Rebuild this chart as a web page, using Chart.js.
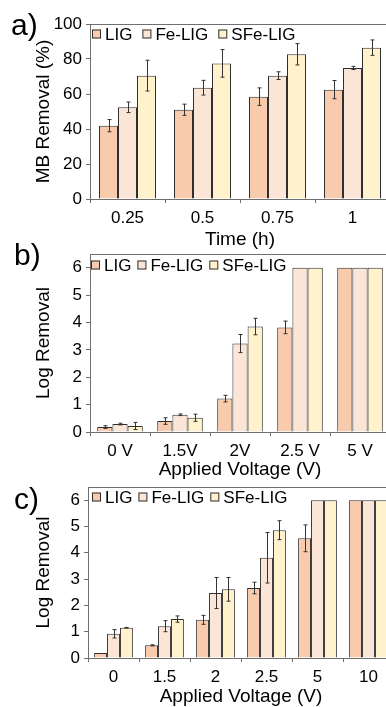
<!DOCTYPE html>
<html>
<head>
<meta charset="utf-8">
<script src="https://cdn.jsdelivr.net/npm/chart.js@4"></script>
<style>
  html, body { margin: 0; padding: 0; background: #fff; overflow: hidden; width: 386px; height: 707px; }
  .panel { position: absolute; left: 0; }
  .tag { position: absolute; font-family: 'Liberation Sans', Arial, sans-serif; font-size: 30px; color: #000; line-height: 1; }
</style>
</head>
<body>
<div class="panel" style="top:0"><canvas id="chartA" width="390" height="251"></canvas></div>
<div class="panel" style="top:234px"><canvas id="chartB" width="390" height="247"></canvas></div>
<div class="panel" style="top:467px"><canvas id="chartC" width="394" height="241"></canvas></div>
<div class="tag" style="left:11px;top:10px">a)</div>
<div class="tag" style="left:14px;top:240px">b)</div>
<div class="tag" style="left:14px;top:484px">c)</div>
<script>
// etiquetas y series
const seriesNames = ['LIG', 'Fe-LIG', 'SFe-LIG'];
const seriesColors = ['#F8CBAD', '#FBE5D6', '#FFF2CC'];

// a) remoción de MB vs tiempo
const timeLabels = ['0.25', '0.5', '0.75', '1'];
const ligA = [41.9, 51.0, 58.5, 62.5];
const ligAErr = [3.5, 3.2, 5.0, 5.2];
const feA = [52.4, 63.6, 70.5, 74.9];
const feAErr = [3.0, 4.2, 2.2, 0.9];
const sfeA = [70.5, 77.5, 82.7, 86.5];
const sfeAErr = [8.8, 7.9, 6.1, 4.4];

// b) log removal vs voltaje
const voltLabelsB = ['0 V', '1.5V', '2V', '2.5 V', '5 V'];
const ligB = [0.18, 0.40, 1.22, 3.82, 6];
const ligBErr = [0.05, 0.12, 0.12, 0.23, 0];
const feB = [0.29, 0.63, 3.23, 6, 6];
const feBErr = [0.03, 0.03, 0.33, 0, 0];
const sfeB = [0.22, 0.52, 3.85, 6, 6];
const sfeBErr = [0.13, 0.13, 0.30, 0, 0];

// c) log removal vs voltaje
const voltLabelsC = ['0', '1.5', '2', '2.5', '5', '10'];
const ligC = [0.19, 0.48, 1.45, 2.66, 4.55, 6];
const ligCErr = [0, 0.02, 0.17, 0.22, 0.51, 0];
const feC = [0.92, 1.21, 2.47, 3.81, 6, 6];
const feCErr = [0.16, 0.21, 0.59, 0.96, 0, 0];
const sfeC = [1.15, 1.48, 2.61, 4.86, 6, 6];
const sfeCErr = [0.01, 0.12, 0.45, 0.36, 0, 0];

const FONT = "'Liberation Sans', Arial, sans-serif";
const AXIS = '#6f6f6f';
const EDGE = '#2f2f2f';

// barras de error, marco superior y leyenda dentro del área
const extras = {
    id: 'extras',
    afterDatasetsDraw(chart, args, opts) {
        const { ctx, chartArea: a, scales: { y } } = chart;
        ctx.save();
        ctx.strokeStyle = '#333';
        ctx.lineWidth = 1;
        chart.data.datasets.forEach((ds, i) => {
            const meta = chart.getDatasetMeta(i);
            meta.data.forEach((bar, j) => {
                const e = ds.errors[j];
                if (!e) return;
                const v = ds.data[j];
                const x = Math.round(bar.x) + 0.5;
                const y1 = y.getPixelForValue(v + e);
                const y2 = y.getPixelForValue(v - e);
                ctx.beginPath();
                ctx.moveTo(x, y1); ctx.lineTo(x, y2);
                ctx.moveTo(x - 2, y1); ctx.lineTo(x + 2, y1);
                ctx.moveTo(x - 2, y2); ctx.lineTo(x + 2, y2);
                ctx.stroke();
            });
        });

        // marco
        ctx.strokeStyle = AXIS;
        ctx.beginPath();
        ctx.moveTo(a.left, Math.round(a.top) + 0.5);
        ctx.lineTo(a.right - 0.5, Math.round(a.top) + 0.5);
        ctx.lineTo(a.right - 0.5, a.bottom);
        ctx.stroke();

        // leyenda
        ctx.font = '17px ' + FONT;
        ctx.textBaseline = 'middle';
        ctx.textAlign = 'left';
        let x = opts.x;
        const yc = opts.y;
        chart.data.datasets.forEach((ds) => {
            ctx.fillStyle = ds.backgroundColor;
            ctx.fillRect(x, yc - 4.5, 9, 9);
            ctx.strokeStyle = EDGE;
            ctx.strokeRect(x + 0.5, yc - 4, 8, 8);
            ctx.fillStyle = '#000';
            ctx.fillText(ds.label, x + 13, yc + 1);
            x += 13 + ctx.measureText(ds.label).width + opts.gap;
        });
        ctx.restore();
    }
};

function makeDatasets(values, errors) {
    return values.map((v, i) => ({
        label: seriesNames[i],
        data: v,
        errors: errors[i],
        backgroundColor: seriesColors[i],
        borderColor: EDGE,
        borderWidth: 1,
        categoryPercentage: 0.76,
        barPercentage: 1.0
    }));
}

function makeChart(id, labels, datasets, cfg) {
    return new Chart(document.getElementById(id), {
        type: 'bar',
        data: { labels: labels, datasets: datasets },
        options: {
            responsive: false,
            animation: false,
            devicePixelRatio: 1,
            layout: { padding: { top: cfg.top, right: 0, bottom: 0, left: 0 } },
            plugins: {
                legend: { display: false },
                tooltip: { enabled: false },
                extras: { x: cfg.legX, y: cfg.legY, gap: cfg.legGap }
            },
            scales: {
                x: {
                    afterFit: (s) => { s.height = cfg.xh; },
                    grid: { display: true, drawOnChartArea: false, drawTicks: true, tickLength: 4, color: AXIS, offset: true },
                    border: { display: true, color: AXIS, width: 1 },
                    ticks: { color: '#000', font: { family: FONT, size: 17 }, padding: 5, maxRotation: 0 },
                    title: { display: true, text: cfg.xTitle, color: '#000', font: { family: FONT, size: 19 }, padding: { top: 0, bottom: 0 } }
                },
                y: {
                    min: 0,
                    max: cfg.yMax,
                    afterFit: (s) => { s.width = cfg.yw; },
                    afterBuildTicks: (s) => { s.ticks = s.ticks.filter(t => t.value % cfg.yStep === 0); },
                    grid: { display: true, drawOnChartArea: false, drawTicks: true, tickLength: 4, color: AXIS },
                    border: { display: true, color: AXIS, width: 1 },
                    ticks: { stepSize: cfg.yStep, includeBounds: false, color: '#000', font: { family: FONT, size: 17 }, padding: 4 },
                    title: { display: true, text: cfg.yTitle, color: '#000', font: { family: FONT, size: 19 }, padding: { top: 32, bottom: 0 } }
                }
            }
        },
        plugins: [extras]
    });
}

makeChart('chartA', timeLabels,
    makeDatasets([ligA, feA, sfeA], [ligAErr, feAErr, sfeAErr]),
    { top: 24, xh: 52, yw: 90, yMax: 100, yStep: 20, xTitle: 'Time (h)', yTitle: 'MB Removal (%)', legX: 92, legY: 34, legGap: 10 });

makeChart('chartB', voltLabelsB,
    makeDatasets([ligB, feB, sfeB], [ligBErr, feBErr, sfeBErr]),
    { top: 20, xh: 49, yw: 90, yMax: 6.5, yStep: 1, xTitle: 'Applied Voltage (V)', yTitle: 'Log Removal', legX: 91, legY: 31, legGap: 6 });

makeChart('chartC', voltLabelsC,
    makeDatasets([ligC, feC, sfeC], [ligCErr, feCErr, sfeCErr]),
    { top: 20, xh: 50, yw: 88, yMax: 6.5, yStep: 1, xTitle: 'Applied Voltage (V)', yTitle: 'Log Removal', legX: 92, legY: 30, legGap: 6 });
</script>
</body>
</html>
